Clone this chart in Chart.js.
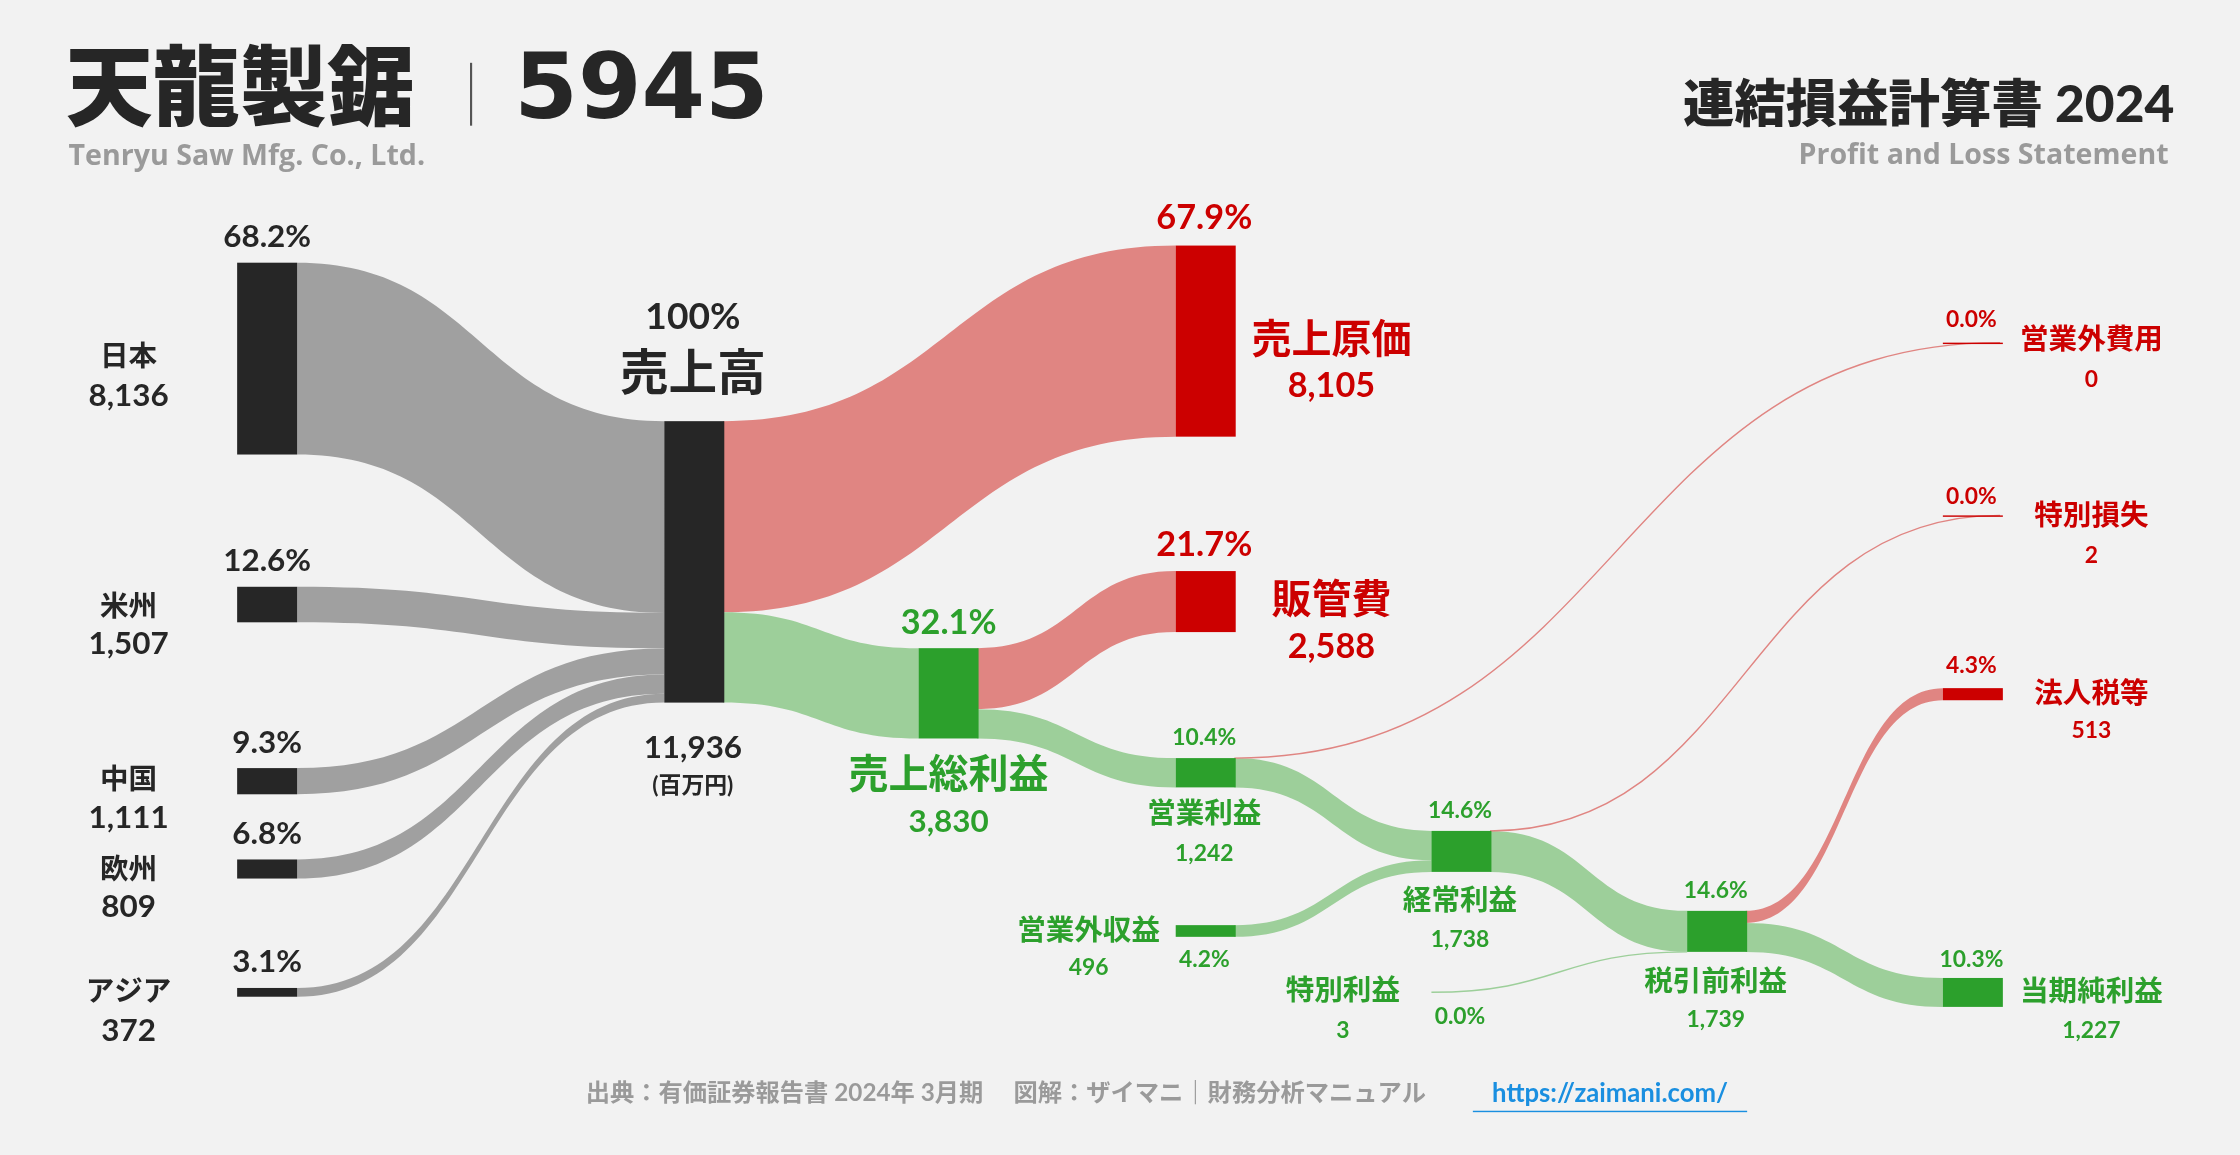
<!DOCTYPE html>
<html><head><meta charset="utf-8">
<script src="https://cdn.jsdelivr.net/npm/chart.js@4"></script>
<style>html,body{margin:0;padding:0;background:#f2f2f2}#w{width:2240px;height:1155px}</style>
</head><body><div id="w"><canvas id="c"></canvas></div>
<script>
// ---- data (百万円) ----
const regions = ['日本','米州','中国','欧州','アジア'];
const regionValues = [8136,1507,1111,809,372];
const regionPct = ['68.2%','12.6%','9.3%','6.8%','3.1%'];
const revenue = 11936;
const costOfSales = 8105, sga = 2588, grossProfit = 3830, opProfit = 1242;
const nonOpIncome = 496, nonOpExpense = 0, ordinaryProfit = 1738;
const extraGain = 3, extraLoss = 2, pretaxProfit = 1739, tax = 513, netProfit = 1227;

// ---- layout (reference frame 1568 x 809) ----
const K = 197/11936; // px per unit
const W = 42;
const C = {gray:'#262626', flowGray:'#a0a0a0', red:'#cc0000', flowRed:'#e08582', green:'#2ca02c', flowGreen:'#9dcf9a', text:'#262626', sub:'#9a9a9a'};
const FONT = "Lato, 'Noto Sans CJK JP', sans-serif";

const plugin = {
  id:'sankey',
  afterDatasetsDraw(chart){
    const ctx = chart.ctx, xs = chart.scales.x, ys = chart.scales.y;
    const X = v=>xs.getPixelForValue(v), Y = v=>ys.getPixelForValue(v);
    const s = (X(1568)-X(0))/1568;
    const h = v=>v*K;
    function node(x,y,val,col,minH){ctx.fillStyle=col;const hh=Math.max(h(val),minH||0);ctx.fillRect(X(x),Y(y),W*s,hh*s);}
    function flow(x1,y1,x2,y2,th,col){
      ctx.fillStyle=col;const t=th*s, a=X(x1), b=X(x2), m=(a+b)/2, p=Y(y1), q=Y(y2);
      ctx.beginPath();ctx.moveTo(a,p);ctx.bezierCurveTo(m,p,m,q,b,q);ctx.lineTo(b,q+t);ctx.bezierCurveTo(m,q+t,m,p+t,a,p+t);ctx.closePath();ctx.fill();
    }
    function line(x1,y1,x2,y2,col){
      ctx.strokeStyle=col;ctx.lineWidth=1*s;const a=X(x1),b=X(x2),m=(a+b)/2,p=Y(y1),q=Y(y2);
      ctx.beginPath();ctx.moveTo(a,p);ctx.bezierCurveTo(m,p,m,q,b,q);ctx.stroke();
    }
    function txt(t,x,y,size,col,align,weight,fam){
      ctx.font=(weight||'bold')+' '+(size*s)+'px '+(fam||FONT);ctx.fillStyle=col;ctx.textAlign=align||'center';ctx.textBaseline='middle';ctx.fillText(t,X(x),Y(y));
    }
    ctx.save();
    const rTops=[184,411,538,602,692];
    let ry=295;
    regionValues.forEach((v,i)=>{flow(166+W,rTops[i],465,ry,h(v),C.flowGray);ry+=h(v);});
    flow(506,295,823,172,h(costOfSales),C.flowRed);
    flow(506,295+h(costOfSales),643,454,h(grossProfit),C.flowGreen);
    flow(684,454,823,400,h(sga),C.flowRed);
    flow(684,454+h(sga),823,531,h(opProfit),C.flowGreen);
    flow(864,531,1002,582,h(opProfit),C.flowGreen);
    flow(864,648,1002,582+h(opProfit),h(nonOpIncome),C.flowGreen);
    flow(1043,582,1181,638,h(ordinaryProfit),C.flowGreen);
    flow(1222,638,1360,482,h(tax),C.flowRed);
    flow(1222,638+h(tax),1360,685,h(netProfit),C.flowGreen);
    line(864,531,1400,240,'#e08582');
    line(1043,582,1400,361,'#e08582');
    line(1002,695,1181,638+h(pretaxProfit),'#9dcf9a');
    regionValues.forEach((v,i)=>node(166,rTops[i],v,C.gray,5));
    node(465,295,revenue,C.gray);
    node(823,172,costOfSales,C.red);
    node(823,400,sga,C.red);
    node(643,454,grossProfit,C.green);
    node(823,531,opProfit,C.green);
    node(823,648,nonOpIncome,C.green);
    node(1002,582,ordinaryProfit,C.green);
    node(1181,638,pretaxProfit,C.green);
    node(1360,482,tax,C.red);
    node(1360,685,netProfit,C.green);
    node(1360,240,nonOpExpense,C.red,1);
    node(1360,361,extraLoss,C.red,1);
    // titles
    txt('天龍製鋸',46,64,61,C.text,'left','900');
    ctx.fillStyle='#555';ctx.fillRect(X(329),Y(44),1.5*s,44*s);
    txt('5945',360,66,64,C.text,'left','bold',"'DejaVu Sans', sans-serif");
    txt('Tenryu Saw Mfg. Co., Ltd.',48,110,20,C.sub,'left','bold',"'Open Sans', sans-serif");
    txt('連結損益計算書 2024',1522,74,36,C.text,'right','900');
    txt('Profit and Loss Statement',1518,109,20,C.sub,'right','bold',"'Open Sans', sans-serif");
    const lab=[[166,250,277],[393,425,451],[520,546,573],[584,609,635],[674,695,722]];
    regions.forEach((r,i)=>{const L=lab[i];txt(regionPct[i],187,L[0],22,C.text);txt(r,90,L[1],20,C.text);txt(regionValues[i].toLocaleString('en-US'),90,L[2],22,C.text);});
    const f=v=>v.toLocaleString('en-US');
    const pct=v=>(v/revenue*100).toFixed(1)+'%';
    txt('100%',485,222,26,C.text);txt('売上高',485,262,34,C.text);
    txt(f(revenue),485,524,22,C.text);txt('(百万円)',485,550,16,C.text);
    txt(pct(costOfSales),843,153,24,C.red);txt('売上原価',932,238,28,C.red);txt(f(costOfSales),932,270,24,C.red);
    txt(pct(sga),843,382,24,C.red);txt('販管費',932,420,28,C.red);txt(f(sga),932,453,24,C.red);
    txt(pct(grossProfit),664,436,24,C.green);txt('売上総利益',664,543,28,C.green);txt(f(grossProfit),664,576,22,C.green);
    txt(pct(opProfit),843,517,16,C.green);txt('営業利益',843,570,20,C.green);txt(f(opProfit),843,598,16,C.green);
    txt('営業外収益',762,652,20,C.green);txt(f(nonOpIncome),762,678,16,C.green);txt(pct(nonOpIncome),843,672,16,C.green);
    txt(pct(ordinaryProfit),1022,568,16,C.green);txt('経常利益',1022,631,20,C.green);txt(f(ordinaryProfit),1022,658,16,C.green);
    txt('特別利益',940,694,20,C.green);txt(f(extraGain),940,722,16,C.green);txt(pct(extraGain),1022,712,16,C.green);
    txt(pct(pretaxProfit),1201,624,16,C.green);txt('税引前利益',1201,688,20,C.green);txt(f(pretaxProfit),1201,714,16,C.green);
    txt(pct(nonOpExpense),1380,224,16,C.red);txt('営業外費用',1464,238,20,C.red);txt(f(nonOpExpense),1464,266,16,C.red);
    txt(pct(extraLoss),1380,348,16,C.red);txt('特別損失',1464,361,20,C.red);txt(f(extraLoss),1464,389,16,C.red);
    txt(pct(tax),1380,466,16,C.red);txt('法人税等',1464,486,20,C.red);txt(f(tax),1464,512,16,C.red);
    txt(pct(netProfit),1380,672,16,C.green);txt('当期純利益',1464,695,20,C.green);txt(f(netProfit),1464,722,16,C.green);
    txt('出典：有価証券報告書 2024年 3月期　 図解：ザイマニ｜財務分析マニュアル',410,766,17,C.sub,'left');
    txt('https://zaimani.com/',1127,766,18,'#1a8fe0','center');
    ctx.fillStyle='#1a8fe0';ctx.fillRect(X(1031),Y(778),192*s,1*s);
    ctx.restore();
  }
};

new Chart(document.getElementById('c'),{
  type:'scatter',
  data:{datasets:[{data:[]}]},
  options:{responsive:true,maintainAspectRatio:false,animation:false,
    layout:{padding:0},
    plugins:{legend:{display:false},tooltip:{enabled:false}},
    scales:{x:{type:'linear',min:0,max:1568,display:false},y:{type:'linear',min:0,max:809,reverse:true,display:false}}},
  plugins:[plugin]
});
</script></body></html>
